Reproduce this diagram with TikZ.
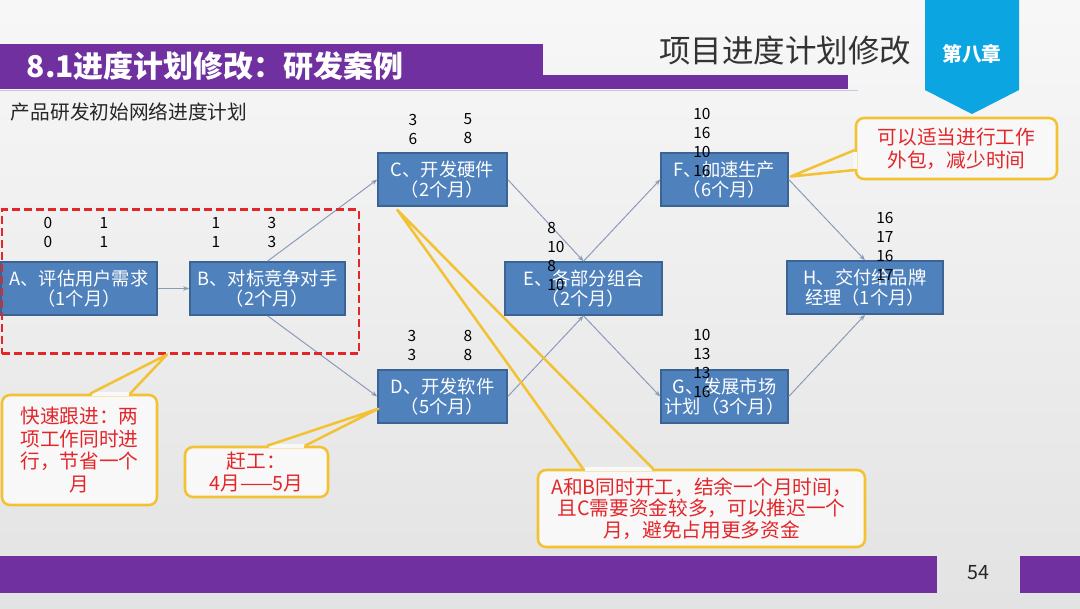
\documentclass[tikz,border=0pt]{standalone}
\usepackage{fontspec}
\setmainfont{Noto Sans CJK SC}
\usepackage{xcolor}
\usetikzlibrary{arrows.meta,positioning}
\definecolor{slidepurple}{HTML}{7030A0}
\definecolor{ribbonblue}{HTML}{0BA5E2}
\definecolor{taskblue}{HTML}{4F81BD}
\definecolor{taskedge}{HTML}{3B6394}
\definecolor{linkgray}{HTML}{8A9BB8}
\definecolor{notegold}{HTML}{F3C234}
\definecolor{notered}{HTML}{E3262A}
\definecolor{notefill}{HTML}{F8F8F8}
\newlength\pxu
\setlength\pxu{0.025cm}

\begin{document}
\begin{tikzpicture}[x=\pxu, y=-\pxu,
    task/.style={draw=taskedge, line width=1.1pt, fill=taskblue, text=white, align=center, inner sep=0pt, minimum height=53\pxu, font=\fontsize{13}{14.2}\selectfont},
    numcol/.style={align=center, inner sep=0pt, font=\fontsize{11}{13.5}\selectfont},
    numstack/.style={align=left, anchor=west, inner sep=0pt, font=\fontsize{11}{13.5}\selectfont},
    arr/.style={-{Stealth[length=4.3pt,width=3.3pt]}, draw=linkgray, line width=0.7pt},
    notebox/.style={draw=notegold, line width=1.8pt, rounded corners=8\pxu, fill=notefill, text=notered, align=center, inner sep=0pt, font=\fontsize{14}{16.3}\selectfont},
    notetail/.style={draw=notegold, line width=1.8pt, line join=round},
    tailgap/.style={fill=notefill}
]
\useasboundingbox (0,0) rectangle (1080,608);
\shade[top color=white!97!black, bottom color=white!89!black] (0,0) rectangle (1080,608);

\fill[slidepurple] (0,44) rectangle (543,89);
\fill[slidepurple] (540,75) rectangle (848,89);
\draw[slidepurple!30, line width=0.6pt] (0,90.5) -- (858,90.5);
\fill[ribbonblue] (925,0) -- (1019,0) -- (1019,90) -- (972,114) -- (925,90) -- cycle;
\fill[slidepurple] (0,556) rectangle (937,593);
\fill[slidepurple] (1020,556) rectangle (1080,593);

\node[anchor=west, text=white, font=\fontsize{21.3}{22}\selectfont\bfseries] (title) at (22,66) {8.1进度计划修改：研发案例};
\node[anchor=east, text=black!80, font=\fontsize{22.4}{24}\selectfont] (chapter) at (916,51) {项目进度计划修改};
\node[text=white, font=\fontsize{14}{14}\selectfont\bfseries] (chapno) at (972,54) {第八章};
\node[anchor=west, text=black!85, font=\fontsize{14}{14}\selectfont] (subtitle) at (6,112) {产品研发初始网络进度计划};
\node[text=black!85, font=\fontsize{14}{14}\selectfont] (pageno) at (978,573) {54};

\node[task, minimum width=156\pxu] (A) at (79,288.5) {A、评估用户需求\\（1个月）};
\node[task, minimum width=155\pxu] (B) at (267.5,288.5) {B、对标竞争对手\\（2个月）};
\node[task, minimum width=129\pxu] (C) at (442.5,179.5) {C、开发硬件\\（2个月）};
\node[task, minimum width=129\pxu] (D) at (442.5,396.5) {D、开发软件\\（5个月）};
\node[task, minimum width=157\pxu] (E) at (583.5,288.5) {E、各部分组合\\（2个月）};
\node[task, minimum width=127\pxu] (F) at (724.5,179.5) {F、加速生产\\（6个月）};
\node[task, minimum width=127\pxu] (G) at (724.5,396.5) {G、发展市场\\计划（3个月）};
\node[task, minimum width=156\pxu] (H) at (865,287.5) {H、交付给品牌\\经理（1个月）};

\draw[arr] (A) -- (B);
\draw[arr] (B.north) -- (C.west);
\draw[arr] (B.south) -- (D.west);
\draw[arr] (C.east) -- (E.north);
\draw[arr] (D.east) -- (E.south);
\draw[arr] (E.north) -- (F.west);
\draw[arr] (E.south) -- (G.west);
\draw[arr] (F.east) -- (H.north);
\draw[arr] (G.east) -- (H.south);

\node[numcol] (a1) at (48,232.5) {0\\0};
\node[numcol] (a2) at (104,232.5) {1\\1};
\node[numcol] (b1) at (216,232.5) {1\\1};
\node[numcol] (b2) at (272,232.5) {3\\3};
\node[numcol] (c1) at (413,129) {3\\6};
\node[numcol] (c2) at (468,129) {5\\8};
\node[numcol] (d1) at (412,345) {3\\3};
\node[numcol] (d2) at (468,345) {8\\8};
\node[numstack] (e1) at (547,256.5) {8\\10\\8\\10};
\node[numstack] (f1) at (693,142.5) {10\\16\\10\\16};
\node[numstack] (g1) at (693,363.5) {10\\13\\13\\16};
\node[numstack] (h1) at (876,246.5) {16\\17\\16\\17};

\node[draw=notered, line width=1.5pt, dash pattern=on 8\pxu off 4\pxu, minimum width=357\pxu, minimum height=144\pxu, inner sep=0pt] (abbox) at (180.5,281.5) {};

\node[notebox, minimum width=155\pxu, minimum height=110\pxu] (fastnote) at (79.5,450) {快速跟进：两\\项工作同时进\\行，节省一个\\月};
\fill[tailgap] ([xshift=12\pxu,yshift=1.3\pxu]fastnote.north) rectangle ([xshift=49\pxu,yshift=-2.5\pxu]fastnote.north);
\draw[notetail] ([xshift=10.5\pxu]fastnote.north) -- ([xshift=-13.5\pxu]abbox.south) -- ([xshift=50.5\pxu]fastnote.north);

\node[notebox, minimum width=143\pxu, minimum height=50\pxu] (crashnote) at (256.5,472) {赶工：\\4月——5月};
\fill[tailgap] ([xshift=12\pxu,yshift=1.3\pxu]crashnote.north) rectangle ([xshift=47\pxu,yshift=-2.5\pxu]crashnote.north);
\draw[notetail] ([xshift=10.5\pxu]crashnote.north) -- ([xshift=1\pxu,yshift=15\pxu]D.south west) -- ([xshift=48.5\pxu]crashnote.north);

\node[notebox, minimum width=327\pxu, minimum height=77\pxu, font=\fontsize{14}{15.4}\selectfont] (delaynote) at (701.5,508.5) {A和B同时开工，结余一个月时间，\\且C需要资金较多，可以推迟一个\\月，避免占用更多资金};
\fill[tailgap] ([xshift=-117\pxu,yshift=1.3\pxu]delaynote.north) rectangle ([xshift=-50\pxu,yshift=-2.5\pxu]delaynote.north);
\draw[notetail] ([xshift=-118.5\pxu]delaynote.north) -- ([xshift=20\pxu,yshift=-3\pxu]C.south west) -- ([xshift=-48.5\pxu]delaynote.north);

\node[notebox, minimum width=201\pxu, minimum height=61\pxu] (outnote) at (956.5,148.5) {可以适当进行工作\\外包，减少时间};
\fill[tailgap] ([xshift=-1.3\pxu,yshift=-3\pxu]outnote.west) rectangle ([xshift=2.5\pxu,yshift=-20\pxu]outnote.west);
\draw[notetail] ([yshift=-1.5\pxu]outnote.west) -- ([xshift=2\pxu,yshift=3\pxu]F.east) -- ([yshift=-21.5\pxu]outnote.west);
\end{tikzpicture}
\end{document}
